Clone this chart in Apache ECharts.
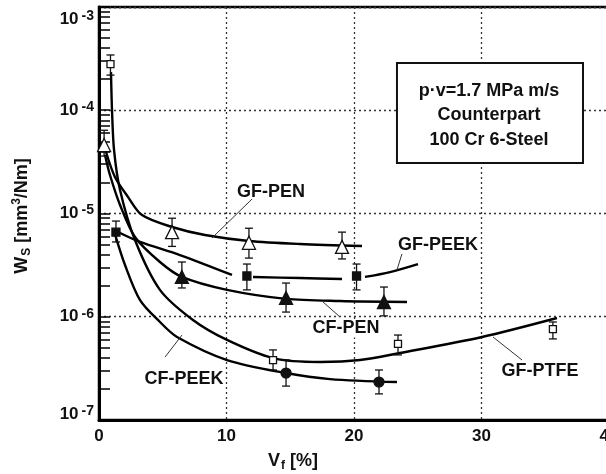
<!DOCTYPE html>
<html>
<head>
<meta charset="utf-8">
<script src="https://cdn.jsdelivr.net/npm/echarts@6/dist/echarts.min.js"></script>
<style>
html, body { margin: 0; padding: 0; background: #fff; }
#chart { width: 606px; height: 474px; }
</style>
</head>
<body>
<div id="chart"></div>
<script>
var FONT = '"Liberation Sans", Arial, Helvetica, sans-serif';

// axis ticks
var xTicks = [0, 10, 20, 30, 40];
var minorMantissa = [2, 3, 4, 5, 6, 7, 8, 9];
var minorDecades = [-7, -6, -5, -4];

// GF-PTFE (open squares)
var ptfeX = [0.9, 13.65, 23.45, 35.6];
var ptfeY = [2.8e-4, 3.8e-7, 5.45e-7, 7.6e-7];
var ptfeLo = [2.19e-4, 3.05e-7, 4.27e-7, 6.1e-7];
var ptfeHi = [3.43e-4, 4.77e-7, 6.65e-7, 8.9e-7];
var ptfeCurveX = [0.94, 1.02, 1.18, 1.65, 2.82, 4.78, 7.37, 10.04, 13.65, 17.33, 20.47, 23.6, 30.04, 35.92];
var ptfeCurveY = [2.34e-4, 1.0e-4, 4.12e-5, 1.69e-5, 5.53e-6, 1.82e-6, 9.3e-7, 5.96e-7, 3.98e-7, 3.65e-7, 3.81e-7, 4.46e-7, 6.37e-7, 9.73e-7];

// GF-PEN (open triangles)
var gpenX = [0.4, 5.73, 11.76, 19.06];
var gpenY = [4.6e-5, 6.6e-6, 5.2e-6, 4.75e-6];
var gpenLo = [3.6e-5, 4.8e-6, 3.7e-6, 3.63e-6];
var gpenHi = [6.4e-5, 9.0e-6, 7.2e-6, 6.6e-6];
var gpenCurveX = [0.55, 1.25, 2.27, 3.37, 5.73, 8.31, 11.76, 15.76, 20.63];
var gpenCurveY = [3.94e-5, 2.26e-5, 1.45e-5, 9.66e-6, 7.4e-6, 6.19e-6, 5.42e-6, 5.07e-6, 4.84e-6];

// GF-PEEK (filled squares), curve broken around the markers
var gpeekX = [1.33, 11.6, 20.2];
var gpeekY = [6.6e-6, 2.48e-6, 2.48e-6];
var gpeekLo = [5.3e-6, 1.82e-6, 1.82e-6];
var gpeekHi = [8.45e-6, 3.24e-6, 3.24e-6];
var gpeekCurveX = [1.49, 3.22, 6.35, 10.43, 11.6, 12.08, 15.76, 19.06, 20.2, 20.86, 22.82, 25.02];
var gpeekCurveY = [6.62e-6, 5.3e-6, 3.96e-6, 2.54e-6, null, 2.43e-6, 2.37e-6, 2.32e-6, null, 2.43e-6, 2.71e-6, 3.24e-6];

// CF-PEN (filled triangles)
var cpenX = [6.5, 14.67, 22.35];
var cpenY = [2.43e-6, 1.52e-6, 1.39e-6];
var cpenLo = [1.9e-6, 1.11e-6, 1.02e-6];
var cpenHi = [3.39e-6, 2.12e-6, 1.94e-6];
var cpenCurveX = [0.47, 0.86, 1.65, 2.82, 4.78, 6.5, 10.04, 14.67, 18.9, 24.16];
var cpenCurveY = [3.69e-5, 2.36e-5, 1.21e-5, 5.92e-6, 3.39e-6, 2.43e-6, 1.82e-6, 1.49e-6, 1.42e-6, 1.39e-6];

// CF-PEEK (filled circles)
var cpeekX = [14.67, 21.96];
var cpeekY = [2.85e-7, 2.33e-7];
var cpeekLo = [2.13e-7, 1.79e-7];
var cpeekHi = [3.81e-7, 3.05e-7];
var cpeekCurveX = [1.25, 2.04, 3.22, 4.78, 6.12, 10.04, 14.67, 18.12, 23.37];
var cpeekCurveY = [6.32e-6, 3.17e-6, 1.45e-6, 8.9e-7, 6.37e-7, 3.81e-7, 2.85e-7, 2.49e-7, 2.33e-7];

// curve labels and their leader lines, in data units
var labelText = ['GF-PEN', 'GF-PEEK', 'CF-PEN', 'CF-PEEK', 'GF-PTFE'];
var labelX = [13.49, 26.59, 19.37, 6.67, 34.59];
var labelY = [1.6e-5, 4.95e-6, 7.69e-7, 2.52e-7, 3.01e-7];
var leadX1 = [12.0, 23.76, 18.9, 5.18, 33.18];
var leadY1 = [1.38e-5, 4.06e-6, 9.95e-7, 4.07e-7, 3.81e-7];
var leadX2 = [8.86, 23.37, 17.57, 6.51, 30.9];
var leadY2 = [5.79e-6, 2.84e-6, 1.39e-6, 6.65e-7, 6.37e-7];

var boxLines = ['p\u00b7v=1.7 MPa m/s', 'Counterpart', '100 Cr 6-Steel'];
var boxCorner1 = [23.37, 2.87e-4];
var boxCorner2 = [37.96, 3.08e-5];
var boxCenter = [30.59, 8.9e-5];

var minorTicks = [];
minorDecades.forEach(function (d) {
    minorMantissa.forEach(function (m) {
        minorTicks.push(d + Math.log10(m));
    });
});

function pairs(xs, ys) {
    return xs.map(function (x, i) {
        return [x, ys[i] == null ? '-' : ys[i]];
    });
}

function bars(xs, lo, hi) {
    return xs.map(function (x, i) {
        return [x, lo[i], hi[i]];
    });
}

function renderErr(params, api) {
    var x = api.value(0);
    var top = api.coord([x, api.value(2)]);
    var bot = api.coord([x, api.value(1)]);
    var w = 4;
    var st = { stroke: '#111', lineWidth: 1.3 };
    return {
        type: 'group',
        children: [
            { type: 'line', shape: { x1: top[0], y1: top[1], x2: bot[0], y2: bot[1] }, style: st },
            { type: 'line', shape: { x1: top[0] - w, y1: top[1], x2: top[0] + w, y2: top[1] }, style: st },
            { type: 'line', shape: { x1: bot[0] - w, y1: bot[1], x2: bot[0] + w, y2: bot[1] }, style: st }
        ]
    };
}

function curve(xs, ys) {
    return {
        type: 'line',
        data: pairs(xs, ys),
        smooth: 0.3,
        symbol: 'none',
        connectNulls: false,
        lineStyle: { color: '#000', width: 2.4 },
        z: 3,
        silent: true
    };
}

function errSeries(xs, lo, hi) {
    return {
        type: 'custom',
        data: bars(xs, lo, hi),
        renderItem: renderErr,
        z: 4,
        silent: true
    };
}

function markers(xs, ys, symbol, size, fill) {
    return {
        type: 'scatter',
        data: pairs(xs, ys),
        symbol: symbol,
        symbolSize: size,
        itemStyle: { color: fill, borderColor: '#111', borderWidth: 1.3, opacity: 1 },
        z: 5,
        silent: true
    };
}

var gridLine = { color: '#333', type: [2, 3], width: 1.3 };

var chart = echarts.init(document.getElementById('chart'));

chart.setOption({
    animation: false,
    grid: {
        left: 99, right: -3, top: 7, bottom: 54,
        outerBoundsMode: 'none',
        containLabel: false,
        show: true, borderColor: '#000', borderWidth: 2.5
    },
    xAxis: {
        type: 'value',
        min: xTicks[0],
        max: xTicks[xTicks.length - 1],
        interval: 10,
        axisLine: { lineStyle: { color: '#000', width: 3 } },
        axisTick: { show: false },
        axisLabel: {
            fontFamily: FONT, fontSize: 17, fontWeight: 'bold', color: '#111', margin: 8
        },
        splitLine: { lineStyle: gridLine }
    },
    yAxis: [{
        type: 'log',
        logBase: 10,
        min: 1e-7,
        max: 1e-3,
        splitNumber: 4,
        axisLine: { show: true, lineStyle: { color: '#000', width: 3 } },
        axisTick: { show: true, inside: true, length: 11, lineStyle: { color: '#000', width: 1.5 } },
        axisLabel: {
            margin: 5,
            formatter: function (v) {
                var e = Math.round(Math.log(v) / Math.LN10);
                var lbl = '{b|10}{s|' + e + '}';
                if (e === -3) return '{e| }\n' + lbl;
                if (e === -7) return lbl + '\n{f| }';
                return lbl;
            },
            rich: {
                b: { fontFamily: FONT, fontSize: 17, fontWeight: 'bold', color: '#111', lineHeight: 20 },
                s: { fontFamily: FONT, fontSize: 14, fontWeight: 'bold', color: '#111', lineHeight: 13,
                     verticalAlign: 'top', padding: [0, 0, 0, 3] },
                e: { fontSize: 10, lineHeight: 24 },
                f: { fontSize: 10, lineHeight: 12 }
            }
        },
        splitLine: { lineStyle: gridLine }
    }, {
        // minor log ticks
        type: 'value',
        min: -7,
        max: -3,
        position: 'left',
        axisLine: { show: false },
        axisLabel: { show: false },
        splitLine: { show: false },
        axisTick: {
            show: true, inside: true, length: 11, customValues: minorTicks,
            lineStyle: { color: '#000', width: 1.5 }
        }
    }],
    series: [
        curve(ptfeCurveX, ptfeCurveY),
        curve(gpenCurveX, gpenCurveY),
        curve(gpeekCurveX, gpeekCurveY),
        curve(cpenCurveX, cpenCurveY),
        curve(cpeekCurveX, cpeekCurveY),
        errSeries(ptfeX, ptfeLo, ptfeHi),
        errSeries(gpenX, gpenLo, gpenHi),
        errSeries(gpeekX, gpeekLo, gpeekHi),
        errSeries(cpenX, cpenLo, cpenHi),
        errSeries(cpeekX, cpeekLo, cpeekHi),
        markers(ptfeX, ptfeY, 'rect', 7, '#fff'),
        markers(gpenX, gpenY, 'triangle', 13, '#fff'),
        markers(gpeekX, gpeekY, 'rect', 8, '#111'),
        markers(cpenX, cpenY, 'triangle', 13, '#111'),
        markers(cpeekX, cpeekY, 'circle', 10, '#111')
    ]
});

function px(x, y) {
    return chart.convertToPixel({ gridIndex: 0 }, [x, y]);
}

var txtStyle = { fontFamily: FONT, fontSize: 18, fontWeight: 'bold', fill: '#111' };
var graphics = [];

labelText.forEach(function (t, i) {
    var c = px(labelX[i], labelY[i]);
    graphics.push({
        type: 'text', x: c[0], y: c[1], z: 20,
        style: Object.assign({
            text: t, align: 'center', verticalAlign: 'middle',
            backgroundColor: i === 3 ? 'transparent' : '#fff', padding: [0, 2]
        }, txtStyle)
    });
    var a = px(leadX1[i], leadY1[i]);
    var b = px(leadX2[i], leadY2[i]);
    graphics.push({
        type: 'line', z: 21,
        shape: { x1: a[0], y1: a[1], x2: b[0], y2: b[1] },
        style: { stroke: '#333', lineWidth: 1 }
    });
});

var p1 = px(boxCorner1[0], boxCorner1[1]);
var p2 = px(boxCorner2[0], boxCorner2[1]);
graphics.push({
    type: 'rect', z: 20,
    shape: { x: p1[0], y: p1[1], width: p2[0] - p1[0], height: p2[1] - p1[1] },
    style: { fill: '#fff', stroke: '#111', lineWidth: 2 }
});
var bc = px(boxCenter[0], boxCenter[1]);
graphics.push({
    type: 'text', x: bc[0], y: bc[1], z: 21,
    style: Object.assign({
        text: boxLines.join('\n'), align: 'center', verticalAlign: 'middle', lineHeight: 24.5
    }, txtStyle)
});

// axis titles
graphics.push({
    type: 'text', x: 22, y: 216, rotation: Math.PI / 2, z: 20,
    style: {
        text: '{b|W}{sb|S}{b| [mm}{sp|3}{b|/Nm]}',
        align: 'center', verticalAlign: 'middle',
        rich: {
            b: { fontFamily: FONT, fontSize: 18, fontWeight: 'bold', fill: '#111', lineHeight: 22 },
            sb: { fontFamily: FONT, fontSize: 12, fontWeight: 'bold', fill: '#111', lineHeight: 12, verticalAlign: 'bottom', padding: [0, 0, 0, 1] },
            sp: { fontFamily: FONT, fontSize: 12, fontWeight: 'bold', fill: '#111', lineHeight: 12, verticalAlign: 'top' }
        }
    }
});
graphics.push({
    type: 'text', x: 293, y: 461, z: 20,
    style: {
        text: '{b|V}{sb|f}{b| [%]}',
        align: 'center', verticalAlign: 'middle',
        rich: {
            b: { fontFamily: FONT, fontSize: 18, fontWeight: 'bold', fill: '#111', lineHeight: 22 },
            sb: { fontFamily: FONT, fontSize: 12, fontWeight: 'bold', fill: '#111', lineHeight: 12, verticalAlign: 'bottom', padding: [0, 0, 0, 1] }
        }
    }
});

chart.setOption({ graphic: graphics });
</script>
</body>
</html>
